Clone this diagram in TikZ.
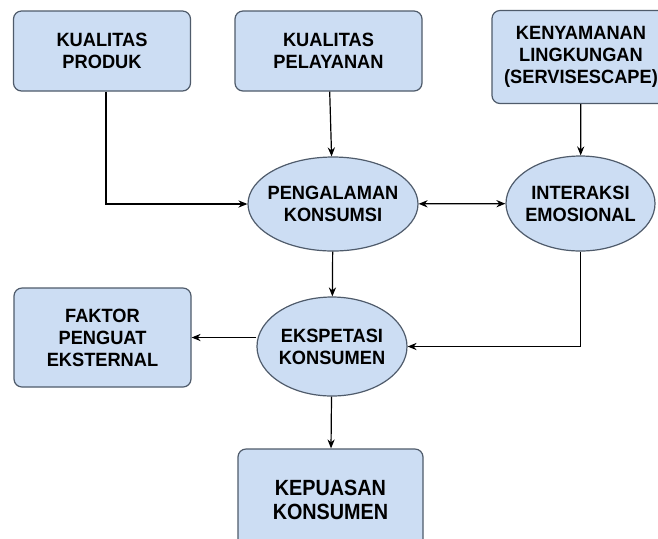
\documentclass[tikz,border=0pt]{standalone}
\usepackage{fontspec}
\setmainfont{Liberation Sans}[FakeStretch=0.95]
\newfontfamily\hurufbesar{Liberation Sans}[FakeStretch=0.9]
\usetikzlibrary{shapes.geometric,arrows.meta}

\definecolor{isian}{HTML}{CCDDF3}
\definecolor{garis}{HTML}{4F5B6B}

\tikzstyle{kotak} = [rectangle, rounded corners=4pt, fill=isian, draw=garis, line width=0.6pt, align=center, font=\fontsize{9.6}{11}\selectfont\bfseries]
\tikzstyle{elips} = [ellipse, inner xsep=-6pt, inner ysep=-2pt, fill=isian, draw=garis, line width=0.6pt, align=center, font=\fontsize{9.6}{11}\selectfont\bfseries]
\tikzstyle{panah} = [line width=0.6pt, -{Stealth[length=4.5pt, width=3.6pt]}]

\begin{document}
\begin{tikzpicture}[x=0.5pt, y=-0.5pt]
		\clip (0,0) rectangle (658,538);
		\fill[white] (0,0) rectangle (658,538);

		\node (produk) [kotak, minimum width=88.5pt, minimum height=40pt] at (102,51) {KUALITAS\\PRODUK};
		\node (layanan) [kotak, minimum width=93.5pt, minimum height=40pt] at (328.5,51) {KUALITAS\\PELAYANAN};
		\node (nyaman) [kotak, minimum width=89pt, minimum height=46.5pt] at (581,57) {KENYAMANAN\\LINGKUNGAN\\(SERVISESCAPE)};
		\node (alami) [elips, minimum width=85pt, minimum height=47pt] at (333,204) {PENGALAMAN\\KONSUMSI};
		\node (emosi) [elips, minimum width=74.5pt, minimum height=47.5pt] at (580.5,203.5) {INTERAKSI\\EMOSIONAL};
		\node (faktor) [kotak, minimum width=88.5pt, minimum height=49.5pt] at (102.5,337.5) {FAKTOR\\PENGUAT\\EKSTERNAL};
		\node (harap) [elips, minimum width=75pt, minimum height=49.5pt] at (332,346.5) {EKSPETASI\\KONSUMEN};
		\node (puas) [kotak, minimum width=92.5pt, minimum height=51pt, font=\hurufbesar\fontsize{11}{12}\selectfont\bfseries] at (330.5,500) {KEPUASAN\\KONSUMEN};

		\draw [panah] ([xshift=2pt]produk.south) |- (alami);
		\draw [panah] (layanan) -- (alami);
		\draw [panah] (nyaman) -- (emosi);
		\draw [panah, {Stealth[length=4.5pt, width=3.6pt]}-{Stealth[length=4.5pt, width=3.6pt]}] (alami) -- (emosi);
		\draw [panah] (alami) -- (harap);
		\draw [panah] (emosi) |- (harap);
		\draw [panah] (harap.west |- faktor.east) -- (faktor.east);
		\draw [panah] (harap) -- (puas);
	\end{tikzpicture}
\end{document}
